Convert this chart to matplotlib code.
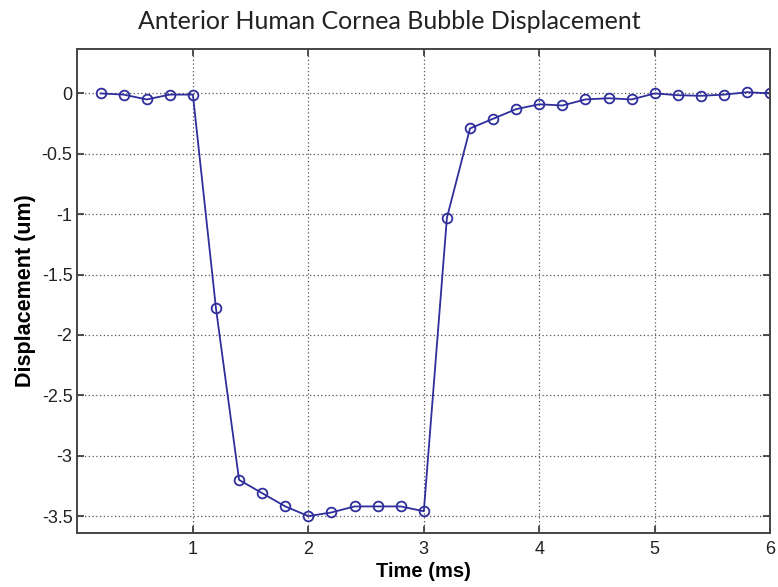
import matplotlib.pyplot as plt

# Bubble displacement samples (every 0.2 ms)
time_ms = [0.2, 0.4, 0.6, 0.8, 1.0, 1.2, 1.4, 1.6, 1.8, 2.0,
           2.2, 2.4, 2.6, 2.8, 3.0, 3.2, 3.4, 3.6, 3.8, 4.0,
           4.2, 4.4, 4.6, 4.8, 5.0, 5.2, 5.4, 5.6, 5.8, 6.0]
displacement_um = [0.0, -0.01, -0.05, -0.01, -0.01, -1.78, -3.20, -3.31, -3.42, -3.50,
                   -3.47, -3.42, -3.42, -3.42, -3.46, -1.03, -0.29, -0.21, -0.13, -0.09,
                   -0.10, -0.05, -0.04, -0.05, 0.0, -0.015, -0.02, -0.01, 0.01, 0.0]
x_ticks = [1, 2, 3, 4, 5, 6]
y_ticks = [0, -0.5, -1, -1.5, -2, -2.5, -3, -3.5]

plt.rcParams['font.family'] = ['Liberation Sans', 'DejaVu Sans']

fig = plt.figure(figsize=(7.78, 5.87), dpi=100)
ax = fig.add_axes([0.0995, 0.092, 0.8905, 0.825])

ax.plot(time_ms, displacement_um, color='#2e2e9c', linewidth=1.3,
        marker='o', markersize=7, markerfacecolor='none',
        markeredgecolor='#2e2e9c', markeredgewidth=1.3)

ax.set_xlim(0, 6)
ax.set_ylim(-3.64, 0.37)
ax.set_xticks(x_ticks)
ax.set_yticks(y_ticks)
ax.set_xticklabels([str(t) for t in x_ticks])
ax.set_yticklabels(['0', '-0.5', '-1', '-1.5', '-2', '-2.5', '-3', '-3.5'])

ax.grid(True, linestyle=(0, (1, 2)), color='#555555', linewidth=0.9)
ax.tick_params(direction='in', length=5, width=1.2, labelsize=13,
               top=True, right=True, color='#333333', labelcolor='#222222')
ax.tick_params(axis='x', pad=6)
for s in ax.spines.values():
    s.set_linewidth(1.4)
    s.set_color('#444444')

ax.set_xlabel('Time (ms)', fontsize=14.5, fontweight='bold', labelpad=3)
ax.set_ylabel('Displacement (um)', fontsize=15.5, fontweight='bold', labelpad=4)
fig.text(0.5, 0.943, 'Anterior Human Cornea Bubble Displacement',
         ha='center', va='bottom', fontsize=18, family='Lato', color='#222222')

plt.savefig('out.png', dpi=100)
